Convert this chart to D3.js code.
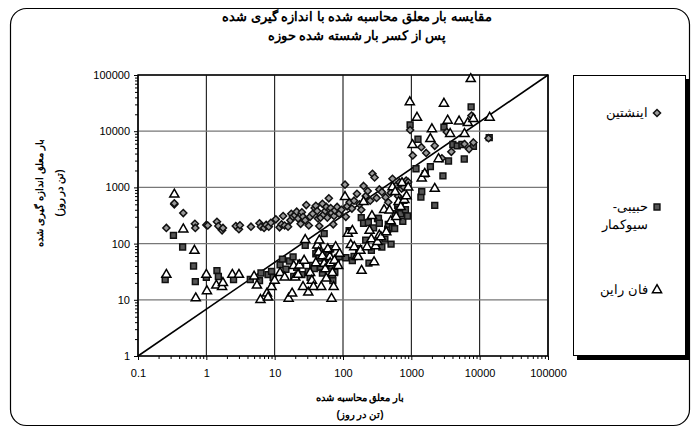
<!DOCTYPE html>
<html><head><meta charset="utf-8">
<script src="https://cdn.jsdelivr.net/npm/d3@7/dist/d3.min.js"></script>
<style>
body{margin:0;background:#fff;}
text{font-family:"Liberation Sans",Arial,sans-serif;}
</style></head>
<body>
<svg id="chart" width="699" height="427"></svg>
<script>
const titleLines = ["مقایسه بار معلق محاسبه شده با اندازه گیری شده", "پس از کسر بار شسته شده حوزه"];
const xTitleLines = ["بار معلق محاسبه شده", "(تن در روز)"];
const yTitleLines = ["بار معلق اندازه گیری شده", "(تن در روز)"];
const tickValues = [0.1, 1, 10, 100, 1000, 10000, 100000];
const yTickValues = [1, 10, 100, 1000, 10000, 100000];
const seriesNames = ["اینشتین", "حبیبی-|سیوکمار", "فان راین"];

const einstein = [[0.26,190],[0.34,500],[0.34,520],[0.46,350],[0.68,225],[0.69,190],[1.0,215],[1.05,210],[1.43,245],[1.5,205],[1.7,172],[1.75,190],[2.7,205],[3.0,180],[3.1,212],[4.5,200],[6.0,230],[6.3,200],[7.0,190],[7.5,215],[8.2,200],[8.8,235],[10.4,270],[11.8,195],[12.6,220],[13.3,310],[14,210],[15.7,200],[17,260],[17.5,340],[18.5,300],[19.7,320],[21,370],[22,280],[24,225],[25,360],[26,300],[28,260],[29,485],[31.6,210],[33,300],[36,340],[38.5,430],[40,470],[42,380],[43,280],[45,205],[47,290],[50,510],[52,330],[55,380],[57,450],[59,290],[62,640],[64,400],[66,430],[68,350],[72,220],[74,310],[76,390],[82,450],[88,340],[95,400],[107,1120],[110,300],[115,460],[125,545],[135,420],[145,580],[160,770],[175,500],[185,400],[200,1060],[215,700],[230,860],[250,580],[270,1750],[290,1500],[310,650],[340,920],[370,830],[420,670],[460,545],[500,800],[530,1420],[590,1060],[640,700],[670,1240],[720,950],[780,1010],[840,1320],[900,1250],[960,10500],[1050,3700],[1400,5200],[1650,4100],[2200,5500],[2800,3300],[3300,9700],[3850,4300],[6000,5900],[7000,4800],[7600,19000],[8100,6300],[13500,7500]];

const habibi = [[0.25,23],[0.33,140],[0.45,87],[0.65,40],[0.69,21],[1.0,25],[1.43,33],[1.5,26],[2.5,23],[4.4,23],[6.0,22],[6.3,30],[8.0,28],[9.0,32],[9.5,25],[12,42],[13,53],[14.6,35],[16.5,49],[18.6,58],[19,26],[21,38],[24,45],[25,28],[28,93],[31,32],[33,25],[36,41],[38,36],[40,66],[43,87],[45,55],[47,38],[50,30],[53,150],[55,70],[57,50],[60,45],[62,62],[66,81],[68,40],[70,27],[71,22],[76,31],[80,48],[88,58],[110,56],[123,170],[137,50],[145,59],[170,81],[185,290],[200,230],[215,115],[235,237],[240,45],[260,76],[280,190],[320,280],[330,280],[340,230],[370,87],[410,120],[450,180],[460,220],[505,98],[530,193],[570,185],[580,340],[630,475],[650,400],[700,340],[750,250],[780,590],[820,400],[880,310],[960,13000],[1170,2150],[1250,7200],[1380,670],[1420,840],[1600,1750],[1900,2350],[2200,480],[2900,1600],[3000,11800],[3500,2950],[4050,5800],[4700,5500],[5500,5800],[5950,3200],[7500,27000],[8100,5400],[13800,7700]];

const vanrijn = [[0.26,28],[0.34,750],[0.46,180],[0.67,75],[0.7,10.7],[1.0,28],[1.02,14.3],[1.4,18],[1.7,17],[1.75,20],[2.4,28],[3.0,28],[5.0,26],[5.5,18],[6.2,10],[7.7,13],[8.0,11],[9,17],[10,22],[12,30],[14,25],[16,10.5],[18,13],[19,40],[20,25],[22,28],[23,41],[26,17],[27,50],[28,117],[31,13.5],[33,30],[35,22],[37,17],[40,45],[42,93],[44,70],[45,114],[48,17],[50,60],[53,44],[55,35],[57,24],[60,80],[64,58],[65,45],[68,10.5],[70,30],[73,17],[75,50],[78,87],[85,40],[89,66],[107,680],[118,150],[130,95],[137,170],[146,87],[160,60],[166,58],[180,75],[187,33],[200,550],[225,87],[245,170],[260,120],[265,310],[285,47],[300,90],[320,107],[340,140],[360,130],[400,400],[430,160],[480,390],[500,250],[530,1010],[580,830],[600,300],[650,550],[700,450],[730,1200],[790,600],[850,700],[900,1000],[950,33000],[1040,5700],[1210,17500],[1420,1450],[1570,1750],[1900,7300],[2000,10900],[2200,950],[2500,3200],[3000,31000],[3400,15500],[3700,9000],[5000,15000],[6000,9000],[6700,14000],[7400,85000],[8100,16500],[14000,17500]];

const refLine = [[0.1,1],[100000,100000]];

const svg = d3.select("#chart");
const L = 138, R = 548, T = 75, B = 356;
const x = d3.scaleLog().domain([0.1, 100000]).range([L, R]);
const y = d3.scaleLog().domain([1, 100000]).range([B, T]);

// outer frame
svg.append("rect").attr("x",10.5).attr("y",8.5).attr("width",679).attr("height",417)
  .attr("rx",16).attr("fill","none").attr("stroke","#000").attr("stroke-width",1.2);

// title
svg.selectAll("text.title").data(titleLines).enter().append("text")
  .attr("class","title").attr("x",357).attr("y",(d,i)=>21+i*19)
  .attr("text-anchor","middle").attr("direction","rtl")
  .attr("font-size",13).attr("font-weight","bold").text(d=>d);

// gridlines
const g = svg.append("g");
g.selectAll("line.vg").data(tickValues).enter().append("line")
  .attr("x1",d=>x(d)).attr("x2",d=>x(d)).attr("y1",T).attr("y2",B)
  .attr("stroke","#000").attr("stroke-width",1);
g.selectAll("line.hg").data(yTickValues).enter().append("line")
  .attr("x1",L).attr("x2",R).attr("y1",d=>y(d)).attr("y2",d=>y(d))
  .attr("stroke","#777").attr("stroke-width",1.2);

// axes
const minorX = [];
for (let e=-1;e<5;e++) for (let k=2;k<10;k++) minorX.push(k*Math.pow(10,e));
const minorY = [];
for (let e=0;e<5;e++) for (let k=2;k<10;k++) minorY.push(k*Math.pow(10,e));

const xAxis = d3.axisBottom(x).tickValues(tickValues).tickFormat(d=>String(d)).tickSize(4).tickPadding(9);
svg.append("g").attr("transform",`translate(0,${B})`).call(xAxis)
  .call(s=>s.select(".domain").remove())
  .call(s=>s.selectAll("text").attr("font-size",11).attr("fill","#000").attr("font-family","Liberation Sans, Arial, sans-serif"));
svg.append("g").attr("transform",`translate(0,${B})`)
  .call(d3.axisBottom(x).tickValues(minorX).tickFormat("").tickSize(3))
  .call(s=>s.select(".domain").remove());

const yAxis = d3.axisLeft(y).tickValues(yTickValues).tickFormat(d=>String(d)).tickSize(4).tickPadding(4);
svg.append("g").attr("transform",`translate(${L},0)`).call(yAxis)
  .call(s=>s.select(".domain").remove())
  .call(s=>s.selectAll("text").attr("font-size",11).attr("fill","#000").attr("font-family","Liberation Sans, Arial, sans-serif"));
svg.append("g").attr("transform",`translate(${L},0)`)
  .call(d3.axisLeft(y).tickValues(minorY).tickFormat("").tickSize(3))
  .call(s=>s.select(".domain").remove());

// plot border
svg.append("rect").attr("x",L).attr("y",T).attr("width",R-L).attr("height",B-T)
  .attr("fill","none").attr("stroke","#000").attr("stroke-width",1.5);

// reference line
svg.append("path").datum(refLine)
  .attr("d",d3.line().x(d=>x(d[0])).y(d=>y(d[1])))
  .attr("stroke","#000").attr("stroke-width",1.6).attr("fill","none");

// markers
const sym = {
  diamond: d3.symbol().type(d3.symbolDiamond2 || d3.symbolDiamond).size(32),
  square: d3.symbol().type(d3.symbolSquare).size(34),
  triangle: d3.symbol().type(d3.symbolTriangle).size(36)
};
function drawSeries(data, kind, fill, stroke){
  svg.append("g").selectAll("path").data(data).enter().append("path")
    .attr("transform",d=>`translate(${x(d[0])},${y(d[1])})`)
    .attr("d",sym[kind]()).attr("fill",fill).attr("stroke",stroke).attr("stroke-width",1.5);
}
drawSeries(habibi,"square","#555","#111");
drawSeries(einstein,"diamond","#999","#111");
drawSeries(vanrijn,"triangle","#fff","#000");

// axis titles
svg.selectAll("text.xt").data(xTitleLines).enter().append("text")
  .attr("x",360).attr("y",(d,i)=>401+i*17).attr("text-anchor","middle")
  .attr("direction","rtl")
  .attr("font-size",10).attr("font-weight","bold").text(d=>d);
svg.selectAll("text.yt").data(yTitleLines).enter().append("text")
  .attr("transform",(d,i)=>`translate(${43+i*20},193) rotate(-90)`).attr("text-anchor","middle")
  .attr("direction","rtl")
  .attr("font-size",10).attr("font-weight","bold").text(d=>d);

// legend
svg.append("rect").attr("x",577).attr("y",79).attr("width",113).attr("height",281).attr("fill","#000");
svg.append("rect").attr("x",573.5).attr("y",75.5).attr("width",112).attr("height",280)
  .attr("fill","#fff").attr("stroke","#000").attr("stroke-width",1);
const legendKinds = [["diamond","#999","#111"],["square","#555","#111"],["triangle","#fff","#000"]];
const legendY = [113, 207, 290];
seriesNames.forEach((name,i)=>{
  const lines = name.split("|");
  lines.forEach((ln,j)=>{
    svg.append("text").attr("x",648).attr("y",legendY[i]+4+j*18)
      .attr("text-anchor","start").attr("direction","rtl")
      .attr("font-size",13).text(ln);
  });
  svg.append("path").attr("transform",`translate(657,${legendY[i]})`)
    .attr("d",sym[legendKinds[i][0]]()).attr("fill",legendKinds[i][1]).attr("stroke",legendKinds[i][2]).attr("stroke-width",1.5);
});
</script>
</body></html>
